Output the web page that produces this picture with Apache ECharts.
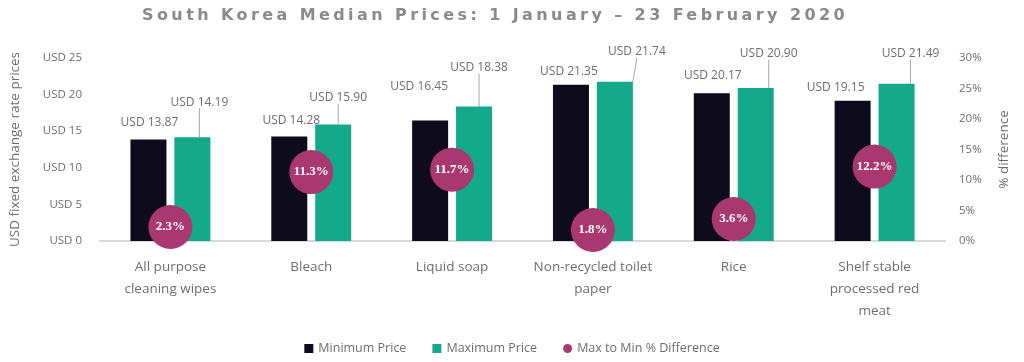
<!DOCTYPE html>
<html>
<head>
<meta charset="utf-8">
<script src="https://cdn.jsdelivr.net/npm/echarts@6/dist/echarts.min.js"></script>
<style>
html,body{margin:0;padding:0;background:#fff;}
#chart{width:1024px;height:362px;}
</style>
</head>
<body>
<div id="chart"></div>
<script>
var titleText = 'South Korea Median Prices: 1 January \u2013 23 February 2020';
var categories = ['All purpose\ncleaning wipes', 'Bleach', 'Liquid soap', 'Non-recycled toilet\npaper', 'Rice', 'Shelf stable\nprocessed red\nmeat'];
var minPrice = [13.87, 14.28, 16.45, 21.35, 20.17, 19.15];
var maxPrice = [14.19, 15.90, 18.38, 21.74, 20.90, 21.49];
var pctDiff = [2.3, 11.3, 11.7, 1.8, 3.6, 12.2];
var leftTicks = ['USD 0', 'USD 5', 'USD 10', 'USD 15', 'USD 20', 'USD 25'];
var rightTicks = ['0%', '5%', '10%', '15%', '20%', '25%', '30%'];

// label placement styling (offsets in px, as in the reference callouts)
var minLabelNudge = [[1, -11], [2, -10], [-11, -28], [-2, -7], [1, -12], [-17, -7]];
var maxLabelNudge = [[7, -29], [5, -21], [5, -33], [22, -24], [13, -28], [14, -24]];

// widen the title's letter spacing (the reference title is letter-spaced)
(function () {
  var proto = CanvasRenderingContext2D.prototype;
  var orig = proto.fillText;
  var targetWidth = 706;
  proto.fillText = function (t, x, y) {
    if (t === titleText && 'letterSpacing' in this) {
      var prev = this.letterSpacing;
      this.letterSpacing = '0px';
      var w = this.measureText(t).width;
      var sp = Math.max(0, (targetWidth - w) / t.length);
      this.letterSpacing = sp.toFixed(2) + 'px';
      var r = orig.apply(this, arguments);
      this.letterSpacing = prev;
      return r;
    }
    return orig.apply(this, arguments);
  };
})();

var chart = echarts.init(document.getElementById('chart'));
var grey = '#6e6e6e';
var font = 'Open Sans';
var leaderStyle = {color: '#a6a6a6', width: 1};
chart.setOption({
  animation: false,
  title: {
    text: titleText,
    left: 137, top: 3,
    textStyle: {color: '#8a8a8a', fontSize: 16, fontWeight: 'bold', fontFamily: 'DejaVu Sans'}
  },
  legend: {
    bottom: 2, left: 'center', itemGap: 26, itemWidth: 9, itemHeight: 9,
    textStyle: {color: grey, fontSize: 12.5, fontFamily: font},
    data: [
      {name: 'Minimum Price', icon: 'rect'},
      {name: 'Maximum Price', icon: 'rect'},
      {name: 'Max to Min % Difference', icon: 'circle'}
    ]
  },
  grid: {left: 97, right: 79, top: 58, bottom: 121},
  xAxis: {
    type: 'category', data: categories,
    axisLine: {lineStyle: {color: '#d9d9d9', width: 2}},
    axisTick: {show: false},
    axisLabel: {color: grey, fontSize: 13.5, lineHeight: 22, margin: 15, fontFamily: font, interval: 0}
  },
  yAxis: [{
    type: 'value', min: 0, max: 25, interval: 5,
    name: 'USD fixed exchange rate prices', nameLocation: 'middle', nameGap: 78, nameRotate: 90,
    nameTextStyle: {color: grey, fontSize: 13.5, fontFamily: font},
    splitLine: {show: false}, axisLine: {show: false}, axisTick: {show: false},
    axisLabel: {color: grey, fontSize: 11.5, margin: 18, fontFamily: font,
      formatter: function (v) { return leftTicks[Math.round(v / 5)]; }}
  }, {
    type: 'value', min: 0, max: 30, interval: 5,
    name: '% difference', nameLocation: 'middle', nameGap: 52, nameRotate: 90,
    nameTextStyle: {color: grey, fontSize: 13.5, fontFamily: font},
    splitLine: {show: false}, axisLine: {show: false}, axisTick: {show: false},
    axisLabel: {color: grey, fontSize: 11.5, margin: 14, fontFamily: font,
      formatter: function (v) { return rightTicks[Math.round(v / 5)]; }}
  }],
  series: [{
    name: 'Minimum Price', type: 'bar', barWidth: 36, barGap: '22%',
    data: minPrice,
    itemStyle: {color: '#0e0b1c'},
    label: {show: true, position: 'top', distance: 0, color: grey, fontSize: 12, fontFamily: font,
      formatter: function (p) { return 'USD ' + p.value.toFixed(2); }},
    labelLayout: function (p) {
      var n = minLabelNudge[p.dataIndex];
      return {dx: n[0], dy: n[1]};
    }
  }, {
    name: 'Maximum Price', type: 'bar', data: maxPrice, barWidth: 36,
    itemStyle: {color: '#14a98a'},
    label: {show: true, position: 'top', distance: 0, color: grey, fontSize: 12, fontFamily: font,
      formatter: function (p) { return 'USD ' + p.value.toFixed(2); }},
    labelLayout: function (p) {
      var n = maxLabelNudge[p.dataIndex];
      return {dx: n[0], dy: n[1]};
    },
    labelLine: {show: true, lineStyle: leaderStyle}
  }, {
    name: 'Max to Min % Difference', type: 'scatter', yAxisIndex: 1, data: pctDiff,
    symbol: 'circle', symbolSize: 44, z: 5,
    itemStyle: {color: '#a8386f', opacity: 1},
    label: {show: true, position: 'inside', color: '#fff', fontSize: 13, fontWeight: 'bold', fontFamily: 'Liberation Serif',
      formatter: function (p) { return p.value.toFixed(1) + '%'; }}
  }]
});
</script>
</body>
</html>
